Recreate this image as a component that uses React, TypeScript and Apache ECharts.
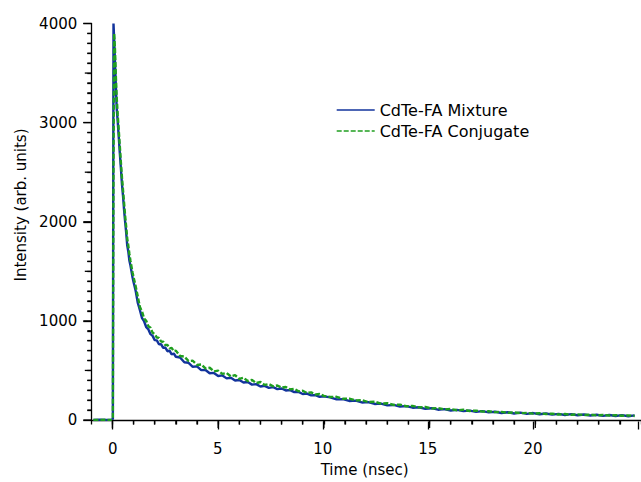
import React, { useEffect, useRef } from "react";
import * as echarts from "echarts";

// Time axis samples (nsec)
const timeRise = [-0.9, -0.6, -0.3, -0.05, 0.02, 0.05, 0.08, 0.12, 0.16, 0.2, 0.25, 0.3, 0.35, 0.4, 0.45, 0.5, 0.55, 0.6, 0.65, 0.7, 0.75, 0.8, 0.85, 0.9, 0.95, 1.0];
const timeMid = [1.1, 1.2, 1.3, 1.4, 1.5, 1.6, 1.7, 1.8, 1.9, 2.0, 2.1, 2.2, 2.3, 2.4, 2.5, 2.6, 2.7, 2.8, 2.9, 3.0];
const timeLate = [3.2, 3.4, 3.6, 3.8, 4.0, 4.2, 4.4, 4.6, 4.8, 5.0, 5.2, 5.4, 5.6, 5.8, 6.0, 6.2, 6.4, 6.6, 6.8, 7.0, 7.2, 7.4, 7.6, 7.8, 8.0, 8.2, 8.4, 8.6, 8.8, 9.0, 9.2, 9.4, 9.6, 9.8, 10.0];
const timeTail = [10.3, 10.6, 10.9, 11.2, 11.5, 11.8, 12.1, 12.4, 12.7, 13.0, 13.3, 13.6, 13.9, 14.2, 14.5, 14.8, 15.1, 15.4, 15.7, 16.0, 16.3, 16.6, 16.9, 17.2, 17.5, 17.8, 18.1, 18.4, 18.7, 19.0, 19.3, 19.6, 19.9, 20.2, 20.5, 20.8, 21.1, 21.4, 21.7, 22.0, 22.3, 22.6, 22.9, 23.2, 23.5, 23.8, 24.1, 24.4, 24.7];

// CdTe-FA Mixture intensities
const mixtureRise = [0, 3, 0, 2, 10, 4000, 3850, 3620, 3380, 3150, 3010, 2850, 2690, 2540, 2380, 2260, 2120, 2000, 1890, 1760, 1700, 1610, 1560, 1500, 1440, 1390];
const mixtureMid = [1302, 1180, 1108, 1028, 994, 936, 914, 866, 849, 806, 803, 764, 766, 727, 731, 694, 699, 662, 671, 638];
const mixtureLate = [631, 582, 577, 537, 541, 503, 505, 471, 475, 444, 450, 420, 426, 399, 404, 378, 383, 357, 362, 338, 345, 324, 331, 311, 318, 298, 302, 282, 283, 262, 267, 248, 252, 234, 238];
const mixtureTail = [228, 208, 211, 192, 195, 177, 180, 162, 165, 148, 152, 136, 140, 124, 129, 113, 119, 104, 110, 96, 102, 89, 95, 82, 89, 77, 83, 71, 78, 66, 74, 62, 70, 58, 66, 54, 62, 51, 59, 48, 56, 45, 53, 42, 51, 40, 49, 38, 47];

// CdTe-FA Conjugate intensities
const conjugateRise = [0, 0, 2, 0, 8, 2600, 3900, 3740, 3480, 3260, 3080, 2920, 2760, 2600, 2450, 2320, 2190, 2060, 1950, 1830, 1760, 1680, 1610, 1550, 1490, 1440];
const conjugateMid = [1348, 1245, 1140, 1095, 1022, 1000, 945, 930, 880, 868, 832, 829, 792, 790, 756, 758, 723, 727, 695, 700];
const conjugateLate = [645, 640, 595, 598, 555, 560, 520, 527, 490, 498, 465, 474, 440, 452, 415, 426, 393, 404, 372, 383, 354, 362, 340, 348, 326, 333, 309, 315, 290, 295, 273, 279, 257, 262, 243];
const conjugateTail = [232, 234, 214, 216, 198, 200, 181, 184, 166, 169, 152, 155, 139, 142, 127, 131, 116, 121, 107, 111, 98, 103, 91, 95, 85, 88, 79, 82, 73, 77, 69, 72, 64, 68, 60, 64, 56, 60, 53, 57, 50, 54, 47, 51, 45, 49, 43, 47, 41];

// Axis ticks
const xMajorTicks = [0, 5, 10, 15, 20];
const xMinorTicks = [1, 2, 3, 4, 6, 7, 8, 9, 11, 12, 13, 14, 16, 17, 18, 19, 21, 22, 23, 24];
const yMajorTicks = [0, 1000, 2000, 3000, 4000];
const yMinorStep = 100;

const seriesNames = ["CdTe-FA Mixture", "CdTe-FA Conjugate"];
const xTitle = "Time (nsec)";
const yTitle = "Intensity (arb. units)";

const times = [...timeRise, ...timeMid, ...timeLate, ...timeTail];
const mixture = [...mixtureRise, ...mixtureMid, ...mixtureLate, ...mixtureTail];
const conjugate = [...conjugateRise, ...conjugateMid, ...conjugateLate, ...conjugateTail];

const FONT = "DejaVu Sans";
const W = 641;
const H = 482;

export default function App() {
  const ref = useRef<HTMLDivElement>(null);

  useEffect(() => {
    if (!ref.current) return;
    const chart = echarts.init(ref.current, null, { renderer: "svg" });
    const axisColor = "#000";
    const top = 23.5;
    const bottom = 60.5;
    const left1 = 91.3;
    const right = -6.4;
    const xMin = -1;
    const xMax = 25;
    const scale = (W - right - left1) / (xMax - xMin);
    const left2 = left1 + (0 - xMin) * scale;
    const tickStyle = { color: axisColor, width: 1.3 };

    const yTitleGraphic = {
      type: "text",
      id: "ytitle",
      x: 21,
      y: 205,
      rotation: Math.PI / 2,
      style: {
        text: yTitle,
        fontSize: 15,
        fontFamily: FONT,
        fill: "#000",
        textAlign: "center",
        textVerticalAlign: "middle",
      },
    };

    chart.setOption({
      animation: false,
      grid: [
        { left: left1, right, top, bottom },
        { left: left2, right, top, bottom },
      ],
      legend: {
        orient: "vertical",
        left: 331,
        top: 97,
        itemWidth: 38,
        itemHeight: 16,
        itemGap: 5,
        itemStyle: { opacity: 0 },
        lineStyle: { width: 1.4 },
        textStyle: { fontSize: 16, color: "#000", fontFamily: FONT },
        data: seriesNames,
      },
      xAxis: [
        {
          type: "value",
          gridIndex: 0,
          min: xMin,
          max: xMax,
          interval: 1,
          name: xTitle,
          nameLocation: "middle",
          nameGap: 42,
          nameTextStyle: { fontSize: 15, color: "#000", fontFamily: FONT, padding: [0, 3, 0, 0] },
          axisLine: { show: true, onZero: false, lineStyle: { color: axisColor, width: 1.3 } },
          axisTick: { show: true, length: 4.5, lineStyle: tickStyle },
          axisLabel: { show: false },
          splitLine: { show: false },
        },
        {
          type: "value",
          gridIndex: 1,
          min: 0,
          max: xMax,
          interval: 5,
          axisLine: { show: false, onZero: false },
          axisTick: { show: true, length: 8, lineStyle: tickStyle },
          axisLabel: {
            margin: 20,
            fontSize: 15,
            color: "#000",
            fontFamily: FONT,
            formatter: (v: number) => (v > 24 ? "" : String(v)),
          },
          splitLine: { show: false },
        },
      ],
      yAxis: [
        {
          type: "value",
          gridIndex: 0,
          min: 0,
          max: 4000,
          interval: 1000,
          axisLine: { show: true, onZero: false, lineStyle: { color: axisColor, width: 1.3 } },
          axisTick: { show: true, length: 8, lineStyle: tickStyle },
          minorTick: { show: true, splitNumber: 10, length: 4, lineStyle: tickStyle },
          axisLabel: { margin: 14, fontSize: 15, color: "#000", fontFamily: FONT, formatter: (v: number) => String(v) },
          splitLine: { show: false },
        },
        { type: "value", gridIndex: 1, min: 0, max: 4000, show: false },
      ],
      graphic: [yTitleGraphic],
      series: [
        {
          name: seriesNames[0],
          type: "line",
          xAxisIndex: 0,
          yAxisIndex: 0,
          symbol: "none",
          showSymbol: false,
          data: times.map((t, i) => [t, mixture[i]]),
          lineStyle: { color: "#12339c", width: 2.4 },
          z: 2,
        },
        {
          name: seriesNames[1],
          type: "line",
          xAxisIndex: 0,
          yAxisIndex: 0,
          symbol: "none",
          showSymbol: false,
          data: times.map((t, i) => [t, conjugate[i]]),
          lineStyle: { color: "#1f9e1f", width: 2.4, type: [5, 2] },
          z: 3,
        },
      ],
    });

    // Tick marks as thin rectangles, positioned through the axes' own scale
    const finder = { xAxisIndex: 0, yAxisIndex: 0 };
    const tickRects: any[] = [];
    const addX = (v: number, len: number) => {
      const p = chart.convertToPixel(finder, [v, 0]) as number[];
      if (!p) return;
      tickRects.push({
        type: "rect",
        shape: { x: p[0] - 0.65, y: p[1], width: 1.3, height: len },
        style: { fill: axisColor },
        silent: true,
        z: 100,
      });
    };
    const addY = (v: number, len: number) => {
      const p = chart.convertToPixel(finder, [xMin, v]) as number[];
      if (!p) return;
      tickRects.push({
        type: "rect",
        shape: { x: p[0] - len, y: p[1] - 0.65, width: len, height: 1.3 },
        style: { fill: axisColor },
        silent: true,
        z: 100,
      });
    };
    xMajorTicks.forEach((v) => addX(v, 8));
    xMinorTicks.forEach((v) => addX(v, 4.5));
    const yMax = yMajorTicks[yMajorTicks.length - 1];
    for (let v = 0; v <= yMax; v += yMinorStep) {
      addY(v, v % 1000 === 0 ? 8 : v % 500 === 0 ? 6.5 : 4);
    }
    chart.setOption({ graphic: [yTitleGraphic, ...tickRects] }, { replaceMerge: ["graphic"] });

    return () => chart.dispose();
  }, []);

  return (
    <div style={{ position: "fixed", left: 0, top: 0, width: W, height: H, fontSize: 0, background: "#fff" }}>
      <div ref={ref} style={{ width: W, height: H, display: "inline-block", verticalAlign: "top" }} />
    </div>
  );
}
